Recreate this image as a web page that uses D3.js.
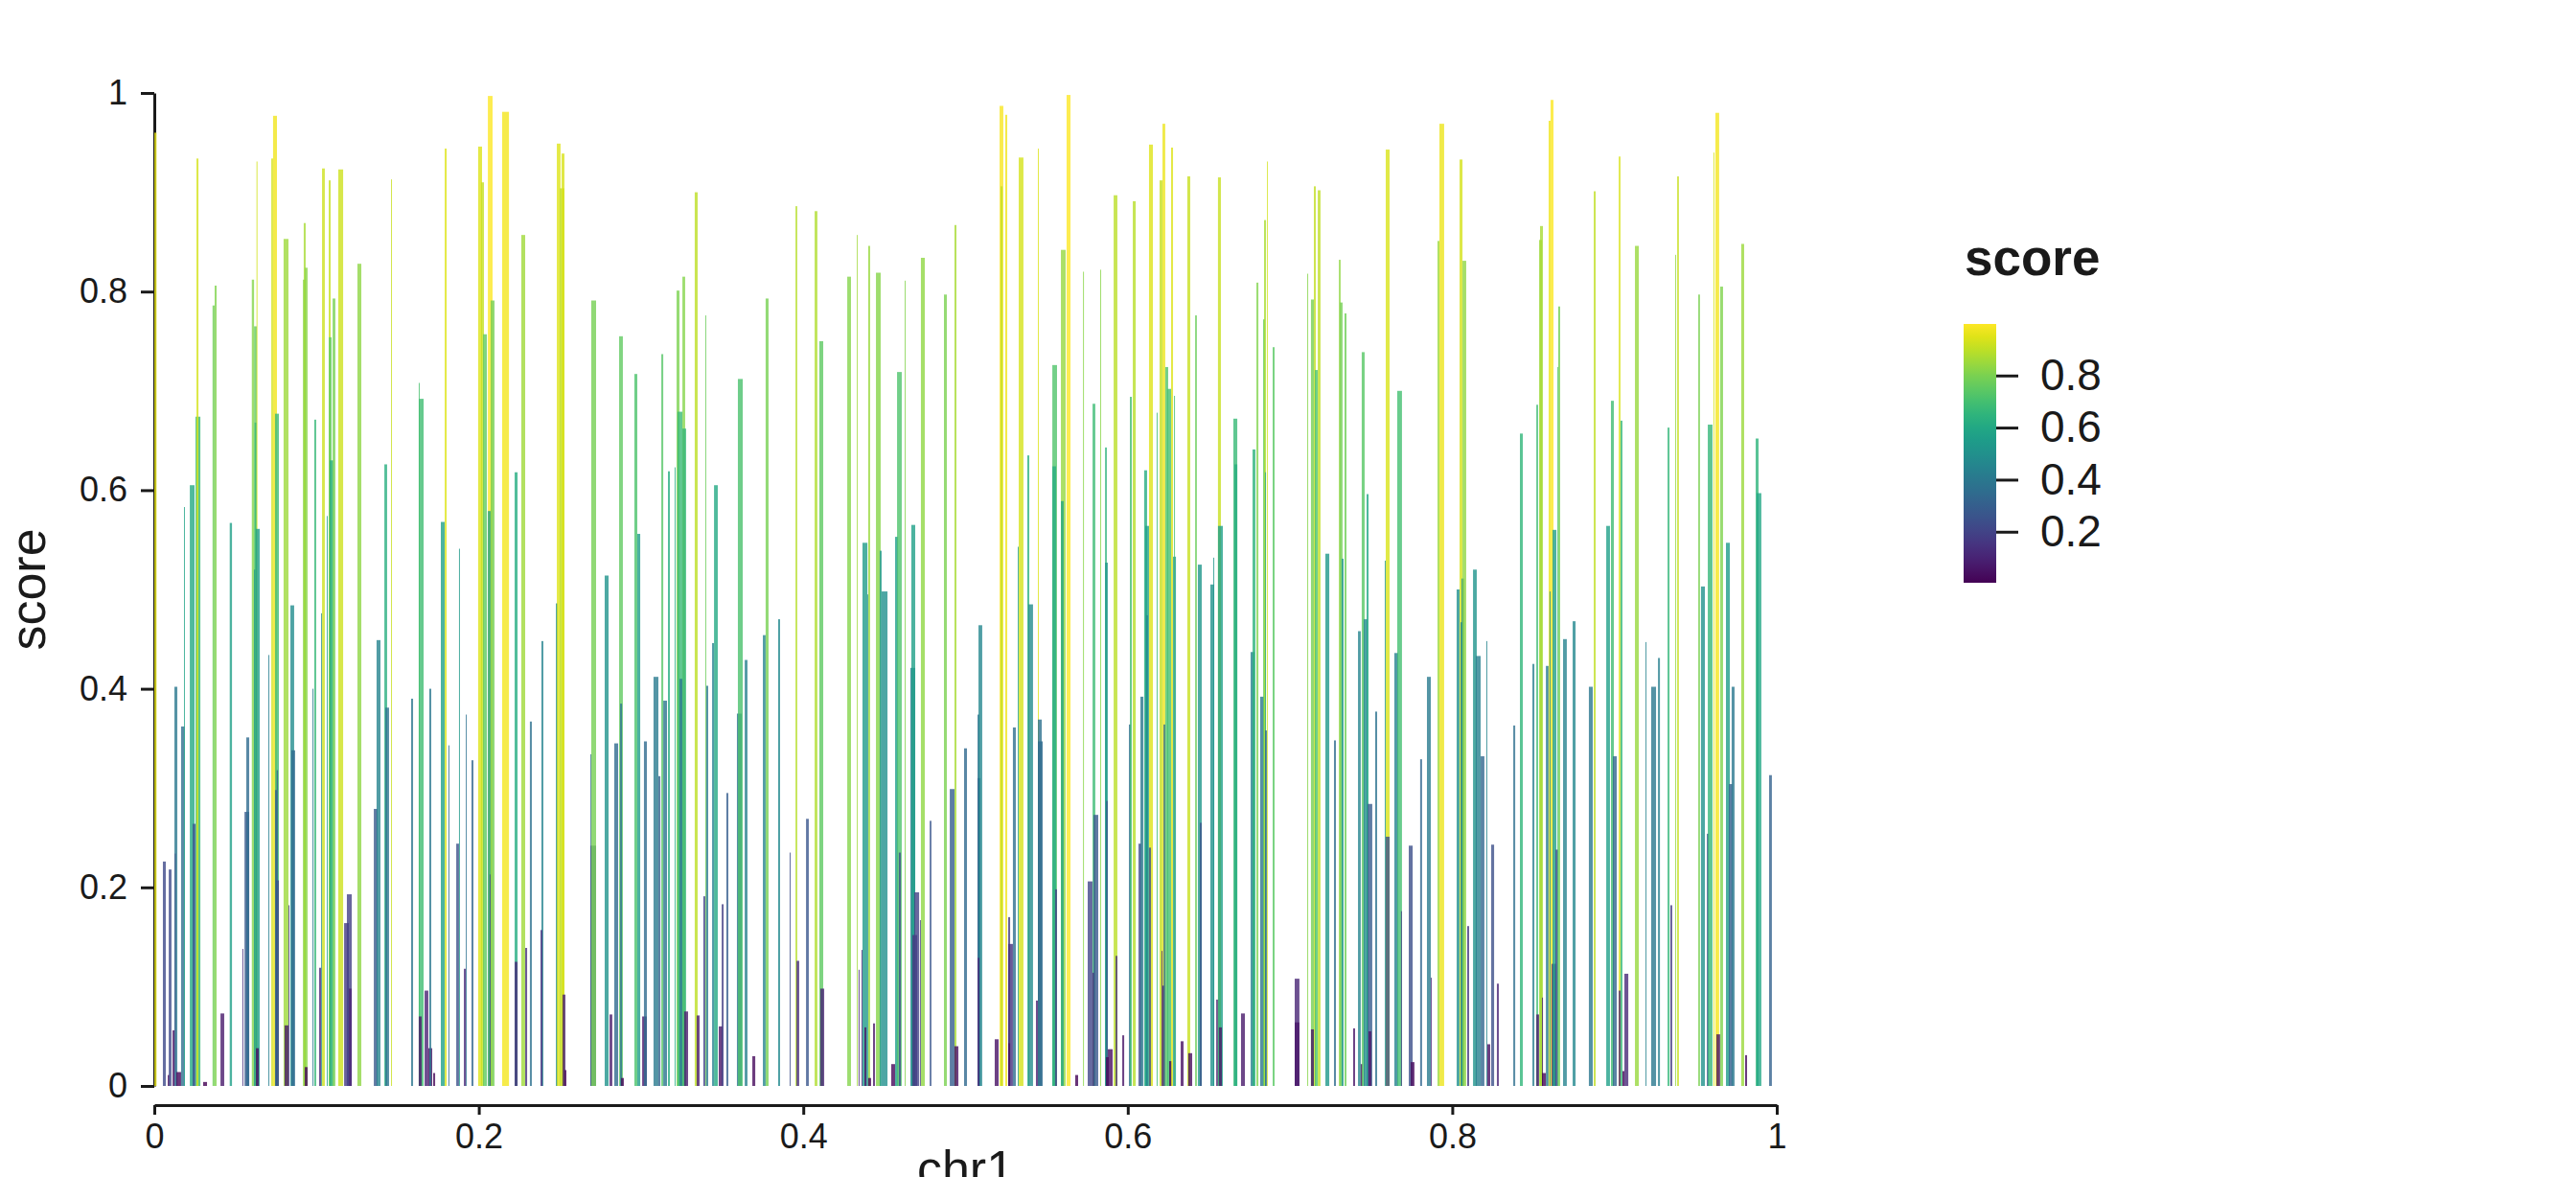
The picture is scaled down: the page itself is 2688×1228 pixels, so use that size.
<!DOCTYPE html>
<html>
<head>
<meta charset="utf-8">
<script src="https://d3js.org/d3.v7.min.js"></script>
<style>
  body { margin: 0; background: #fff; }
  text { font-family: "Liberation Sans", Arial, Helvetica, sans-serif; fill: #1a1a1a; }
</style>
</head>
<body>
<svg id="chart" width="2688" height="1228"></svg>
<script>
// regions on chr1: [start, end, score]
var regions = [
  [0.0000,0.0014,0.960],[0.0053,0.0071,0.226],[0.0083,0.0093,0.011],[0.0089,0.0106,0.218],
  [0.0112,0.0124,0.056],[0.0124,0.0142,0.402],[0.0126,0.0130,0.234],[0.0136,0.0165,0.014],
  [0.0165,0.0187,0.362],[0.0183,0.0187,0.583],[0.0219,0.0248,0.605],[0.0236,0.0254,0.264],
  [0.0254,0.0284,0.674],[0.0260,0.0272,0.934],[0.0301,0.0325,0.004],[0.0359,0.0372,0.786],
  [0.0372,0.0384,0.806],[0.0408,0.0431,0.073],[0.0465,0.0479,0.567],[0.0543,0.0549,0.138],
  [0.0556,0.0585,0.276],[0.0567,0.0585,0.351],[0.0601,0.0615,0.812],[0.0615,0.0632,0.765],
  [0.0618,0.0630,0.668],[0.0615,0.0622,0.520],[0.0630,0.0636,0.931],[0.0626,0.0650,0.561],
  [0.0626,0.0644,0.038],[0.0703,0.0709,0.434],[0.0721,0.0732,0.934],[0.0732,0.0756,0.977],
  [0.0744,0.0768,0.677],[0.0744,0.0756,0.298],[0.0750,0.0768,0.207],[0.0754,0.0762,0.318],
  [0.0797,0.0827,0.853],[0.0803,0.0827,0.061],[0.0827,0.0833,0.182],[0.0839,0.0862,0.484],
  [0.0845,0.0868,0.338],[0.0916,0.0933,0.812],[0.0921,0.0933,0.869],[0.0927,0.0945,0.824],
  [0.0927,0.0945,0.019],[0.0975,0.0981,0.400],[0.0986,0.0998,0.671],[0.1016,0.1028,0.119],
  [0.1028,0.1034,0.476],[0.1034,0.1051,0.924],[0.1063,0.1069,0.574],[0.1075,0.1087,0.912],
  [0.1075,0.1093,0.754],[0.1081,0.1105,0.630],[0.1099,0.1116,0.793],
  [0.1134,0.1164,0.923],[0.1170,0.1199,0.164],[0.1187,0.1217,0.193],[0.1199,0.1217,0.098],
  [0.1252,0.1276,0.828],[0.1353,0.1376,0.279],[0.1370,0.1394,0.449],[0.1418,0.1435,0.626],
  [0.1424,0.1447,0.381],[0.1459,0.1465,0.913],[0.1583,0.1595,0.390],[0.1630,0.1636,0.708],
  [0.1630,0.1660,0.692],[0.1630,0.1648,0.070],[0.1666,0.1689,0.096],[0.1689,0.1713,0.038],
  [0.1695,0.1707,0.400],[0.1719,0.1731,0.013],[0.1766,0.1790,0.568],[0.1790,0.1802,0.944],
  [0.1813,0.1819,0.343],[0.1861,0.1878,0.244],[0.1878,0.1884,0.541],[0.1908,0.1920,0.118],
  [0.1920,0.1926,0.374],[0.1955,0.1967,0.328],[0.1996,0.2020,0.946],[0.2014,0.2032,0.910],
  [0.2026,0.2050,0.757],[0.2056,0.2085,0.997],[0.2056,0.2073,0.579],[0.2067,0.2073,0.213],
  [0.2073,0.2097,0.791],[0.2144,0.2186,0.981],[0.2221,0.2239,0.618],[0.2221,0.2239,0.125],
  [0.2262,0.2286,0.857],[0.2286,0.2298,0.139],[0.2315,0.2327,0.367],[0.2386,0.2398,0.448],
  [0.2380,0.2392,0.157],[0.2475,0.2487,0.486],[0.2481,0.2504,0.949],[0.2499,0.2528,0.904],
  [0.2510,0.2528,0.939],[0.2516,0.2534,0.092],[0.2528,0.2540,0.016],[0.2688,0.2693,0.334],
  [0.2688,0.2723,0.242],[0.2693,0.2723,0.791],[0.2776,0.2800,0.514],[0.2806,0.2823,0.072],
  [0.2835,0.2859,0.345],[0.2865,0.2888,0.755],[0.2871,0.2883,0.385],[0.2877,0.2894,0.008],
  [0.2959,0.2977,0.717],[0.2977,0.2995,0.556],[0.3007,0.3036,0.070],[0.3018,0.3036,0.347],
  [0.3077,0.3107,0.412],[0.3107,0.3119,0.312],[0.3125,0.3137,0.737],[0.3137,0.3160,0.388],
  [0.3166,0.3178,0.619],[0.3207,0.3213,0.623],[0.3219,0.3237,0.801],[0.3225,0.3255,0.679],
  [0.3237,0.3255,0.410],[0.3255,0.3272,0.815],[0.3255,0.3278,0.662],[0.3266,0.3290,0.075],
  [0.3331,0.3349,0.900],[0.3343,0.3361,0.071],
  [0.3384,0.3396,0.191],[0.3396,0.3402,0.776],[0.3402,0.3414,0.403],[0.3438,0.3450,0.446],
  [0.3450,0.3473,0.605],[0.3479,0.3503,0.060],[0.3497,0.3509,0.183],[0.3526,0.3538,0.295],
  [0.3591,0.3621,0.375],[0.3597,0.3627,0.712],[0.3639,0.3656,0.429],[0.3686,0.3704,0.030],
  [0.3751,0.3768,0.454],[0.3768,0.3786,0.793],[0.3845,0.3857,0.470],[0.3916,0.3922,0.235],
  [0.3952,0.3963,0.886],[0.3958,0.3975,0.126],[0.4017,0.4034,0.269],[0.4070,0.4087,0.881],
  [0.4099,0.4123,0.750],[0.4105,0.4129,0.098],[0.4271,0.4294,0.815],[0.4330,0.4335,0.857],
  [0.4341,0.4347,0.117],[0.4359,0.4365,0.137],[0.4365,0.4395,0.547],[0.4377,0.4389,0.059],
  [0.4395,0.4400,0.495],[0.4400,0.4412,0.846],[0.4400,0.4418,0.008],[0.4430,0.4442,0.063],
  [0.4448,0.4477,0.819],[0.4471,0.4483,0.539],
  [0.4483,0.4519,0.498],[0.4542,0.4566,0.022],[0.4566,0.4584,0.553],[0.4578,0.4607,0.719],
  [0.4589,0.4601,0.235],[0.4625,0.4631,0.811],[0.4660,0.4690,0.421],[0.4666,0.4690,0.565],
  [0.4672,0.4702,0.152],[0.4684,0.4714,0.195],[0.4719,0.4725,0.167],[0.4725,0.4749,0.834],
  [0.4779,0.4790,0.267],[0.4867,0.4885,0.797],[0.4903,0.4932,0.299],[0.4932,0.4944,0.867],
  [0.4932,0.4956,0.040],[0.4991,0.5009,0.340],[0.5074,0.5086,0.374],[0.5074,0.5092,0.310],
  [0.5080,0.5103,0.464],[0.5074,0.5086,0.129],[0.5180,0.5204,0.047],[0.5210,0.5233,0.987],
  [0.5216,0.5228,0.906],[0.5245,0.5257,0.978],[0.5263,0.5275,0.170],[0.5263,0.5292,0.143],
  [0.5263,0.5275,0.043],[0.5292,0.5310,0.361],[0.5322,0.5328,0.543],[0.5328,0.5357,0.935],
  [0.5381,0.5393,0.635],[0.5387,0.5416,0.485],[0.5434,0.5446,0.086],[0.5446,0.5452,0.944],
  [0.5446,0.5470,0.369],[0.5446,0.5476,0.347],[0.5535,0.5564,0.726],[0.5535,0.5558,0.624],
  [0.5552,0.5564,0.198],[0.5588,0.5617,0.842],[0.5588,0.5605,0.589],
  [0.5623,0.5647,0.998],[0.5676,0.5694,0.011],[0.5724,0.5730,0.820],[0.5753,0.5783,0.206],
  [0.5783,0.5800,0.687],[0.5783,0.5794,0.114],[0.5789,0.5818,0.273],[0.5830,0.5836,0.822],
  [0.5860,0.5871,0.643],[0.5860,0.5877,0.527],[0.5866,0.5877,0.287],[0.5865,0.5883,0.029],
  [0.5877,0.5907,0.037],[0.5913,0.5936,0.897],[0.5925,0.5936,0.131],[0.5966,0.5978,0.051],
  [0.6007,0.6019,0.364],[0.6013,0.6025,0.694],[0.6031,0.6049,0.891],[0.6066,0.6084,0.244],
  [0.6078,0.6096,0.392],[0.6101,0.6119,0.620],[0.6108,0.6131,0.564],[0.6113,0.6125,0.474],
  [0.6131,0.6155,0.948],[0.6131,0.6143,0.240],[0.6178,0.6184,0.678],[0.6196,0.6214,0.912],
  [0.6208,0.6214,0.136],[0.6214,0.6231,0.969],[0.6214,0.6226,0.101],[0.6220,0.6231,0.364],
  [0.6231,0.6249,0.724],[0.6243,0.6267,0.702],[0.6255,0.6273,0.025],[0.6267,0.6279,0.945],
  [0.6279,0.6297,0.533],[0.6285,0.6291,0.695],[0.6326,0.6344,0.045],[0.6367,0.6385,0.916],
  [0.6373,0.6397,0.033],[0.6415,0.6426,0.776],[0.6432,0.6456,0.525],[0.6444,0.6456,0.265],
  [0.6509,0.6533,0.505],[0.6527,0.6533,0.532],[0.6545,0.6556,0.087],[0.6556,0.6574,0.915],
  [0.6556,0.6586,0.564],[0.6562,0.6580,0.059],[0.6651,0.6675,0.672],[0.6657,0.6675,0.626],
  [0.6698,0.6722,0.073],
  [0.6757,0.6781,0.437],[0.6769,0.6787,0.641],[0.6793,0.6805,0.809],[0.6816,0.6840,0.392],
  [0.6834,0.6846,0.772],[0.6840,0.6852,0.872],[0.6846,0.6852,0.618],[0.6846,0.6858,0.358],
  [0.6858,0.6863,0.931],[0.6893,0.6905,0.744],[0.7029,0.7058,0.108],[0.7029,0.7058,0.064],
  [0.7106,0.7112,0.818],[0.7129,0.7147,0.792],[0.7129,0.7147,0.057],[0.7147,0.7159,0.906],
  [0.7153,0.7171,0.721],[0.7171,0.7188,0.902],[0.7218,0.7242,0.536],[0.7271,0.7283,0.348],
  [0.7301,0.7312,0.832],[0.7307,0.7324,0.789],[0.7318,0.7330,0.531],[0.7336,0.7348,0.778],
  [0.7389,0.7401,0.058],[0.7419,0.7436,0.458],[0.7436,0.7448,0.022],[0.7442,0.7460,0.739],
  [0.7454,0.7478,0.470],[0.7472,0.7484,0.596],[0.7478,0.7507,0.284],[0.7484,0.7501,0.055],
  [0.7525,0.7537,0.377],[0.7584,0.7590,0.529],[0.7590,0.7614,0.943],[0.7590,0.7614,0.251],
  [0.7643,0.7667,0.436],[0.7661,0.7690,0.700],[0.7684,0.7690,0.176],[0.7732,0.7756,0.242],
  [0.7744,0.7767,0.024],[0.7802,0.7814,0.329],[0.7844,0.7868,0.412],
  [0.7868,0.7874,0.109],[0.7909,0.7921,0.851],[0.7921,0.7950,0.969],[0.8027,0.8045,0.500],
  [0.8045,0.8063,0.933],[0.8051,0.8063,0.467],[0.8057,0.8074,0.511],[0.8063,0.8086,0.831],
  [0.8092,0.8104,0.161],[0.8128,0.8151,0.520],[0.8145,0.8175,0.433],[0.8175,0.8198,0.332],
  [0.8210,0.8216,0.448],[0.8216,0.8234,0.042],[0.8240,0.8258,0.243],[0.8275,0.8287,0.103],
  [0.8376,0.8388,0.363],[0.8417,0.8435,0.657],[0.8494,0.8506,0.425],[0.8518,0.8529,0.686],
  [0.8518,0.8535,0.072],[0.8535,0.8553,0.852],[0.8541,0.8559,0.866],[0.8553,0.8559,0.089],
  [0.8553,0.8577,0.013],[0.8577,0.8594,0.423],[0.8594,0.8606,0.972],[0.8606,0.8624,0.993],
  [0.8600,0.8606,0.498],[0.8612,0.8642,0.123],[0.8618,0.8642,0.560],[0.8636,0.8653,0.238],
  [0.8648,0.8653,0.724],[0.8653,0.8665,0.785],[0.8683,0.8706,0.450],[0.8742,0.8760,0.468],
  [0.8842,0.8866,0.402],[0.8872,0.8884,0.901],[0.8949,0.8972,0.564],
  [0.8978,0.8996,0.690],[0.8990,0.9014,0.332],[0.9026,0.9037,0.936],[0.9026,0.9037,0.096],
  [0.9037,0.9049,0.670],[0.9049,0.9061,0.015],[0.9061,0.9085,0.113],[0.9126,0.9150,0.846],
  [0.9191,0.9197,0.447],[0.9226,0.9256,0.402],[0.9268,0.9280,0.431],[0.9327,0.9339,0.663],
  [0.9344,0.9356,0.182],[0.9374,0.9380,0.837],[0.9386,0.9397,0.916],[0.9516,0.9527,0.797],
  [0.9533,0.9557,0.503],[0.9569,0.9581,0.254],[0.9575,0.9604,0.666],[0.9610,0.9616,0.940],
  [0.9622,0.9645,0.980],[0.9628,0.9651,0.052],[0.9651,0.9669,0.805],[0.9687,0.9711,0.547],
  [0.9705,0.9728,0.304],[0.9722,0.9740,0.402],[0.9781,0.9799,0.848],[0.9805,0.9817,0.031],
  [0.9870,0.9888,0.652],[0.9876,0.9905,0.597],[0.9953,0.9970,0.313]
];

var xTicks = [0, 0.2, 0.4, 0.6, 0.8, 1];
var yTicks = [0, 0.2, 0.4, 0.6, 0.8, 1];
var legendTicks = [0.2, 0.4, 0.6, 0.8];
var fmt = d3.format("~g");

var svg = d3.select("#chart");
svg.append("rect").attr("width", 2688).attr("height", 1228).attr("fill", "#fff");

var xScale = d3.scaleLinear().domain([0, 1]).range([161, 1854]);
var yScale = d3.scaleLinear().domain([0, 1]).range([1133, 97]);
var scoreExtent = d3.extent(regions, d => d[2]);
var color = d3.scaleSequential(d3.interpolateViridis).domain(scoreExtent);

// axes
var yAxisG = svg.append("g")
  .attr("transform", "translate(161,0)")
  .call(d3.axisLeft(yScale).tickValues(yTicks).tickFormat(fmt).tickSize(14).tickSizeOuter(0).tickPadding(14));
var xAxisG = svg.append("g")
  .attr("transform", "translate(0,1153)")
  .call(d3.axisBottom(xScale).tickValues(xTicks).tickFormat(fmt).tickSize(10).tickSizeOuter(0).tickPadding(9));
[yAxisG, xAxisG].forEach(function(g) {
  g.select(".domain").attr("stroke", "#1a1a1a").attr("stroke-width", 3);
  g.selectAll(".tick line").attr("stroke", "#1a1a1a").attr("stroke-width", 3);
  g.selectAll(".tick text").style("font-size", "36px").attr("fill", "#1a1a1a");
});

// bars
svg.append("g").selectAll("rect")
  .data(regions)
  .enter()
  .append("rect")
  .attr("x", d => xScale(d[0]))
  .attr("width", d => Math.max(1, xScale(d[1]) - xScale(d[0])))
  .attr("y", d => yScale(d[2]))
  .attr("height", d => yScale(0) - yScale(d[2]))
  .attr("fill", d => color(d[2]))
  .attr("fill-opacity", 0.8);

// axis titles
svg.append("text")
  .attr("transform", "translate(47," + yScale(0.5) + ") rotate(-90)")
  .attr("text-anchor", "middle")
  .style("font-size", "52px")
  .text("score");
svg.append("text")
  .attr("x", (xScale(0) + xScale(1)) / 2)
  .attr("y", 1237)
  .attr("text-anchor", "middle")
  .style("font-size", "52px")
  .text("chr1");

// legend
var legendScale = d3.scaleLinear().domain(scoreExtent).range([608, 338]);
var grad = svg.append("defs").append("linearGradient")
  .attr("id", "viridisGrad").attr("x1", 0).attr("y1", 1).attr("x2", 0).attr("y2", 0);
d3.range(0, 1.0001, 0.05).forEach(function(t) {
  grad.append("stop").attr("offset", t).attr("stop-color", d3.interpolateViridis(t));
});
svg.append("text")
  .attr("x", 2050).attr("y", 287)
  .style("font-size", "53px").style("font-weight", "bold")
  .text("score");
svg.append("rect")
  .attr("x", 2049).attr("y", 338).attr("width", 34).attr("height", 270)
  .attr("fill", "url(#viridisGrad)");
var legAxis = svg.append("g")
  .attr("transform", "translate(2083,0)")
  .call(d3.axisRight(legendScale).tickValues(legendTicks).tickFormat(fmt).tickSize(23).tickPadding(23));
legAxis.select(".domain").remove();
legAxis.selectAll(".tick line").attr("stroke", "#1a1a1a").attr("stroke-width", 3);
legAxis.selectAll(".tick text").style("font-size", "46px").attr("fill", "#1a1a1a");
</script>
</body>
</html>
